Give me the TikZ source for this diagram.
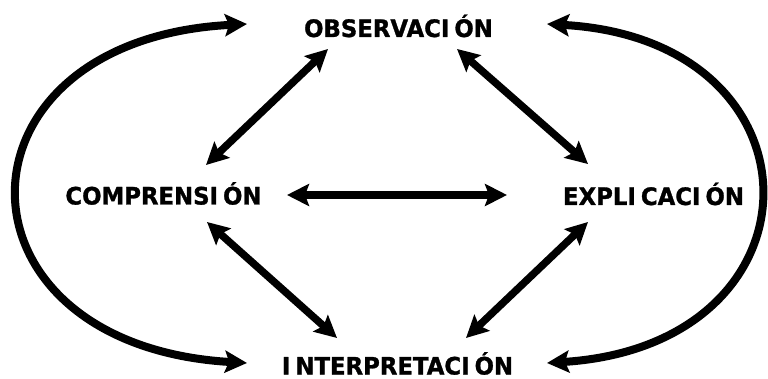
\documentclass[tikz,border=0pt]{standalone}
\usepackage{fontspec}
\setmainfont{DejaVu Sans}
\newfontfamily\stagefont[FakeStretch=0.95, FakeBold=1.2]{DejaVu Sans Bold}
\usetikzlibrary{arrows.meta}

% letter I followed by the wide gap used in the labels
\newcommand{\Igap}{I\kern5pt}

\tikzset{head/.tip={Stealth[length=22pt, width=22pt, inset=4pt]}}

\begin{document}
\begin{tikzpicture}[x=1pt, y=-1pt,
  label/.style={inner sep=0pt, anchor=base, font=\stagefont\fontsize{24}{27}\selectfont},
  link/.style={line width=7.5pt, head-head},
  loop/.style={line width=8pt, head-head}]
  \useasboundingbox (0,0) rectangle (768,379);

  % the four stages
  \node[label] (obs)    at (398.5,37)  {OBSERVAC\Igap ÓN};
  \node[label] (comp)   at (163.5,204.5) {COMPRENS\Igap ÓN};
  \node[label] (expl)   at (653.5,205) {EXPL\Igap CAC\Igap ÓN};
  \node[label] (interp) at (397.5,374.5) {\Igap NTERPRETAC\Igap ÓN};

  % arrow ends
  \coordinate (obsL)  at (328,49);
  \coordinate (obsR)  at (457,49);
  \coordinate (compU) at (206,165);
  \coordinate (compD) at (207,222);
  \coordinate (compR) at (287,195);
  \coordinate (explL) at (507,195);
  \coordinate (explU) at (588,164);
  \coordinate (explD) at (588,222);
  \coordinate (intL)  at (337,338);
  \coordinate (intR)  at (466,338);
  \coordinate (loopTL) at (247,24);
  \coordinate (loopBL) at (247,363);
  \coordinate (loopTR) at (547,24);
  \coordinate (loopBR) at (547,363);

  % links between neighbouring stages
  \draw[link] (obsL) -- (compU);
  \draw[link] (obsR) -- (explU);
  \draw[link] (compR) -- (explL);
  \draw[link] (compD) -- (intL);
  \draw[link] (explD) -- (intR);

  % outer loops joining observation and interpretation
  \draw[loop] (loopTL) .. controls (-57,40) and (-57,345) .. (loopBL);
  \draw[loop] (loopTR) .. controls (830,40) and (830,345) .. (loopBR);
\end{tikzpicture}
\end{document}
